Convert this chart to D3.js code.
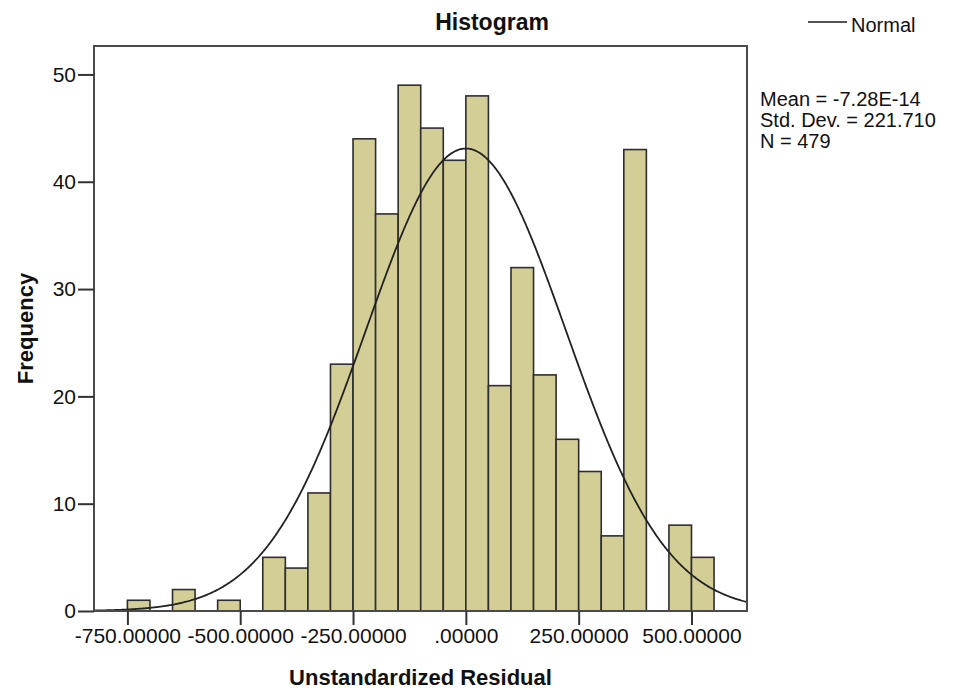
<!DOCTYPE html>
<html>
<head>
<meta charset="utf-8">
<script src="https://cdn.jsdelivr.net/npm/d3@7"></script>
<style>
  html, body { margin: 0; padding: 0; background: #fff; }
  svg { display: block; font-family: "Liberation Sans", Arial, sans-serif; }
</style>
</head>
<body>
<div id="chart"></div>
<script>
// histogram bins (lower edge, width 50) and frequencies
const binStarts = [-750, -700, -650, -600, -550, -500, -450, -400, -350, -300, -250, -200, -150, -100, -50,
                   0, 50, 100, 150, 200, 250, 300, 350, 400, 450, 500];
const counts    = [1, 0, 2, 0, 1, 0, 5, 4, 11, 23, 44, 37, 49, 45, 42,
                   48, 21, 32, 22, 16, 13, 7, 43, 0, 8, 5];
const binWidth = 50;

// summary stats shown in the legend; the Normal curve is drawn from these
const statLabels = ["Mean = -7.28E-14", "Std. Dev. = 221.710", "N = 479"];
const mean = -7.28e-14;
const stdDev = 221.710;
const nObs = 479;

const xTicks = [-750, -500, -250, 0, 250, 500];
const yTicks = [0, 10, 20, 30, 40, 50];

// 1. Setup
const width = 953, height = 690;
const margin = { top: 46, right: 206, bottom: 79, left: 94 };

const svg = d3.select("#chart")
    .append("svg")
    .attr("width", width)
    .attr("height", height);

// 2. Scales
const x = d3.scaleLinear()
    .domain([-824, 623])
    .range([margin.left, width - margin.right]);

const y = d3.scaleLinear()
    .domain([0, 52.65])
    .range([height - margin.bottom, margin.top]);

const bins = binStarts.map((b, i) => ({ x0: b, x1: b + binWidth, count: counts[i] }))
    .filter(d => d.count > 0);

// 3. Bars
svg.append("g")
    .selectAll("rect")
    .data(bins)
    .join("rect")
    .attr("x", d => x(d.x0))
    .attr("y", d => y(d.count))
    .attr("width", d => x(d.x1) - x(d.x0))
    .attr("height", d => y(0) - y(d.count))
    .attr("fill", "#d3ce96")
    .attr("stroke", "#2e2e2e")
    .attr("stroke-width", 1.6);

// 4. Normal curve
const curvePts = d3.range(x.domain()[0], x.domain()[1] + 1, 2).map(v => {
    const z = (v - mean) / stdDev;
    return [v, nObs * binWidth * Math.exp(-0.5 * z * z) / (stdDev * Math.sqrt(2 * Math.PI))];
});

svg.append("path")
    .datum(curvePts)
    .attr("fill", "none")
    .attr("stroke", "#222")
    .attr("stroke-width", 1.8)
    .attr("d", d3.line().x(d => x(d[0])).y(d => y(d[1])));

// 5. Frame
svg.append("rect")
    .attr("x", margin.left)
    .attr("y", margin.top)
    .attr("width", width - margin.right - margin.left)
    .attr("height", height - margin.bottom - margin.top)
    .attr("fill", "none")
    .attr("stroke", "#4a4a4a")
    .attr("stroke-width", 2);

// 6. Axes
const xAxis = svg.append("g")
    .attr("transform", `translate(0, ${height - margin.bottom})`)
    .call(d3.axisBottom(x).tickValues(xTicks).tickSize(14).tickPadding(3)
        .tickFormat(d => d === 0 ? ".00000" : d.toFixed(5)));

const yAxis = svg.append("g")
    .attr("transform", `translate(${margin.left}, 0)`)
    .call(d3.axisLeft(y).tickValues(yTicks).tickSize(16).tickPadding(2));

[xAxis, yAxis].forEach(g => {
    g.select(".domain").remove();
    g.selectAll("line").attr("stroke", "#333").attr("stroke-width", 2);
    g.selectAll("text")
        .attr("fill", "#111")
        .attr("font-size", "21px")
        .attr("font-family", "Liberation Sans, Arial, sans-serif");
});

// 7. Titles
svg.append("text")
    .attr("x", 492)
    .attr("y", 30)
    .attr("text-anchor", "middle")
    .attr("font-size", "23px")
    .attr("font-weight", "bold")
    .attr("fill", "#111")
    .text("Histogram");

svg.append("text")
    .attr("x", (margin.left + width - margin.right) / 2)
    .attr("y", 685)
    .attr("text-anchor", "middle")
    .attr("font-size", "22px")
    .attr("font-weight", "bold")
    .attr("fill", "#111")
    .text("Unstandardized Residual");

svg.append("text")
    .attr("transform", `translate(33, ${(margin.top + height - margin.bottom) / 2}) rotate(-90)`)
    .attr("text-anchor", "middle")
    .attr("font-size", "22px")
    .attr("font-weight", "bold")
    .attr("fill", "#111")
    .text("Frequency");

// 8. Legend
svg.append("line")
    .attr("x1", 808).attr("x2", 847)
    .attr("y1", 22).attr("y2", 22)
    .attr("stroke", "#555")
    .attr("stroke-width", 2);

svg.append("text")
    .attr("x", 851)
    .attr("y", 32)
    .attr("font-size", "20px")
    .attr("fill", "#111")
    .text("Normal");

svg.append("g")
    .selectAll("text")
    .data(statLabels)
    .join("text")
    .attr("x", 760)
    .attr("y", (d, i) => 106 + i * 21)
    .attr("font-size", "20px")
    .attr("fill", "#111")
    .text(d => d);
</script>
</body>
</html>
